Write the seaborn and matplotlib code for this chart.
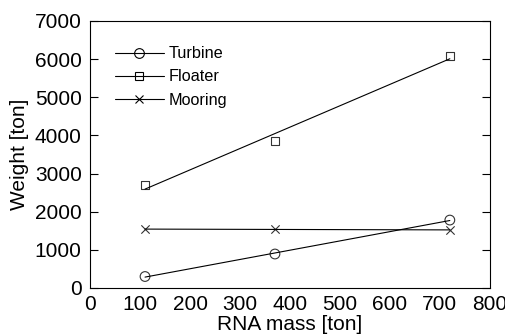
# Component weight versus RNA mass with linear trend lines

import matplotlib.pyplot as plt
import seaborn as sns
from matplotlib.lines import Line2D

rna_mass = [110, 370, 720]
turbine = [300, 890, 1780]
floater = [2700, 3860, 6090]
mooring = [1540, 1540, 1520]

series = [("Turbine", turbine, "o", 7), ("Floater", floater, "s", 6), ("Mooring", mooring, "x", 6)]


def main():
    sns.set_style("white")
    plt.rcParams["font.family"] = ["Liberation Sans", "DejaVu Sans"]
    plt.rcParams["font.size"] = 15
    plt.rcParams["text.color"] = "black"
    plt.rcParams["axes.labelcolor"] = "black"

    fig, ax = plt.subplots(figsize=(5.06, 3.36), dpi=100)

    handles = []
    for name, values, mk, ms in series:
        sns.regplot(x=rna_mass, y=values, ax=ax, ci=None, marker=mk,
                    scatter_kws={"s": ms ** 2, "facecolors": "none" if mk != "x" else "black",
                                 "edgecolors": "black", "linewidths": 0.8, "color": "black"},
                    line_kws={"color": "black", "lw": 0.8})
        handles.append(Line2D([], [], color="black", lw=0.8, marker=mk, markersize=ms,
                              markerfacecolor="none", markeredgecolor="black", markeredgewidth=0.8))

    ax.set_xlim(0, 800)
    ax.set_ylim(0, 7000)
    ax.set_xticks(range(0, 801, 100))
    ax.set_yticks(range(0, 7001, 1000))
    ax.set_xlabel("RNA mass [ton]", labelpad=1)
    ax.set_ylabel("Weight [ton]", labelpad=4)
    ax.tick_params(axis="y", direction="in", length=6, left=True, right=True,
                   colors="black", labelcolor="black", pad=6)
    ax.tick_params(axis="x", length=0, pad=5, labelcolor="black")
    for s in ax.spines.values():
        s.set_color("black")
        s.set_linewidth(0.8)

    ax.legend(handles, [n for n, *_ in series], loc="upper left", frameon=False,
              fontsize=11.7, handlelength=3.0, handletextpad=0.3, borderpad=0,
              borderaxespad=0, bbox_to_anchor=(0.0625, 0.905), labelspacing=0.5)

    fig.subplots_adjust(left=0.178, right=0.968, top=0.9375, bottom=0.143)
    plt.savefig("out.png", dpi=100)


if __name__ == "__main__":
    main()
